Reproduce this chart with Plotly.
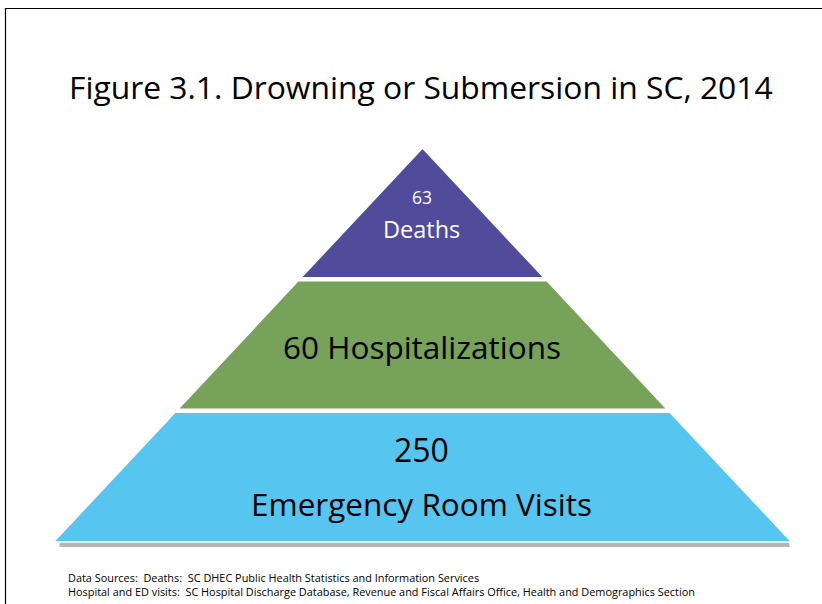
import plotly.graph_objects as go

# ---- data ----
tier_values = ["63", "60", "250"]
tier_names = ["Deaths", "Hospitalizations", "Emergency Room Visits"]
tier_colors = ["#504B9B", "#77A259", "#56C6F1"]
title_text = "Figure 3.1. Drowning or Submersion in SC, 2014"
source_lines = [
    "Data Sources:  Deaths:  SC DHEC Public Health Statistics and Information Services",
    "Hospital and ED visits:  SC Hospital Discharge Database, Revenue and Fiscal Affairs Office, Health and Demographics Section",
]

W, H = 822, 604
# pyramid geometry (pixel-space axes)
apex_x, apex_y = 422.5, 148.0
base_y = 542.0
base_half = 369.0
gap = 3.0
n = len(tier_names)
tier_h = (base_y - apex_y) / n
slope = base_half / (base_y - apex_y)

fig = go.Figure()

def half_at(y):
    return (y - apex_y) * slope

# shadow under the base
fig.add_shape(type="rect", x0=apex_x - base_half + 6, x1=apex_x + base_half - 2,
              y0=base_y, y1=base_y + 5, line=dict(width=0),
              fillcolor="rgba(120,120,120,0.55)", layer="below")

for i in range(n):
    y_top = apex_y + i * tier_h + (gap / 2 if i > 0 else 0)
    y_bot = apex_y + (i + 1) * tier_h - (gap / 2 if i < n - 1 else 0)
    ht, hb = half_at(y_top), half_at(y_bot)
    xs = [apex_x - ht, apex_x + ht, apex_x + hb, apex_x - hb, apex_x - ht]
    ys = [y_top, y_top, y_bot, y_bot, y_top]
    fig.add_trace(go.Scatter(x=xs, y=ys, fill="toself", mode="lines",
                             fillcolor=tier_colors[i],
                             line=dict(color="white", width=1.5),
                             hoverinfo="skip", showlegend=False))

FONT = "Open Sans"
# labels
fig.add_annotation(x=apex_x - 1, y=197, text=tier_values[0], showarrow=False,
                   font=dict(size=17.5, color="white", family=FONT))
fig.add_annotation(x=apex_x - 1, y=229, text=tier_names[0], showarrow=False,
                   font=dict(size=23.5, color="white", family=FONT))
fig.add_annotation(x=apex_x - 1, y=346, text=f"{tier_values[1]} {tier_names[1]}", showarrow=False,
                   font=dict(size=31.5, color="black", family=FONT))
fig.add_annotation(x=apex_x - 1, y=449, text=tier_values[2], showarrow=False,
                   font=dict(size=32, color="black", family=FONT))
fig.add_annotation(x=apex_x - 1, y=503, text=tier_names[2], showarrow=False,
                   font=dict(size=31.5, color="black", family=FONT))

# title
fig.add_annotation(x=421, y=86, text=title_text, showarrow=False,
                   font=dict(size=31.8, color="black", family=FONT))

# sources
for k, line in enumerate(source_lines):
    fig.add_annotation(x=66, y=577 + k * 14, text=line, showarrow=False, xanchor="left",
                       font=dict(size=10.9, color="black", family=FONT))

# border
fig.add_shape(type="rect", x0=5.5, y0=8.5, x1=W + 10, y1=H + 10,
              line=dict(color="black", width=1.2), layer="below")

fig.update_xaxes(range=[0, W], visible=False, fixedrange=True)
fig.update_yaxes(range=[H, 0], visible=False, fixedrange=True)
fig.update_layout(width=W, height=H, margin=dict(l=0, r=0, t=0, b=0),
                  plot_bgcolor="white", paper_bgcolor="white")

fig.write_html("out.html", config={"displayModeBar": False},
               post_script="document.body.style.margin='0';document.body.style.overflow='hidden';")
